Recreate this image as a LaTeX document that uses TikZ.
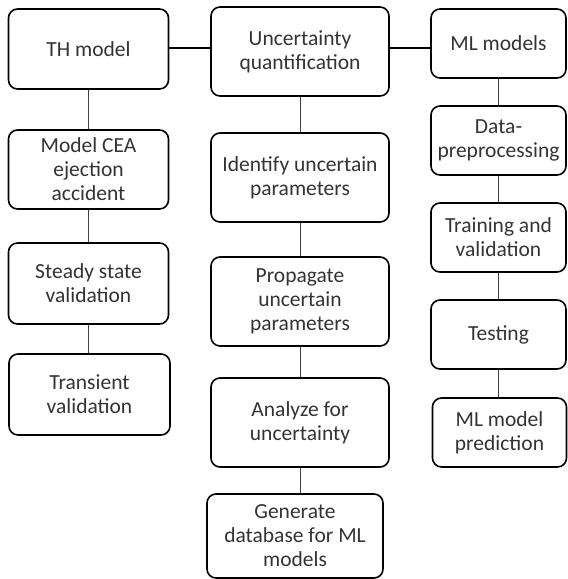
\documentclass[tikz,border=0pt]{standalone}
\usepackage{fontspec}
\setmainfont{Carlito}
\begin{document}
\begin{tikzpicture}[x=1pt,y=-1pt,
  box/.style={draw=black, line width=1.6pt, rounded corners=9pt, align=center,
    inner sep=0pt, text=black!80, font=\fontsize{21.5}{24}\selectfont},
  hline/.style={draw=black, line width=1.6pt},
  vline/.style={draw=black!75, line width=0.9pt}]
\useasboundingbox (0,0) rectangle (568,579);
% left column
\node[box, minimum width=160pt, minimum height=80pt] (th) at (88.5,49) {TH model};
\node[box, minimum width=160pt, minimum height=79pt] (cea) at (88.5,169.5) {Model CEA\\ejection\\accident};
\node[box, minimum width=160pt, minimum height=81pt] (ss) at (88.5,283.5) {Steady state\\validation};
\node[box, minimum width=161pt, minimum height=81pt] (tr) at (89.5,394.5) {Transient\\validation};
% middle column
\node[box, minimum width=178pt, minimum height=89pt] (uq) at (300,51.5) {Uncertainty\\quantification};
\node[box, minimum width=178pt, minimum height=89pt] (id) at (300,177.5) {Identify uncertain\\parameters};
\node[box, minimum width=178pt, minimum height=89pt] (pr) at (300,301.5) {Propagate\\uncertain\\parameters};
\node[box, minimum width=178pt, minimum height=89pt] (an) at (300,422.5) {Analyze for\\uncertainty};
\node[box, minimum width=176pt, minimum height=84pt] (gen) at (295,536) {Generate\\database for ML\\models};
% right column
\node[box, minimum width=135pt, minimum height=69pt] (ml) at (498.5,43.5) {ML models};
\node[box, minimum width=135pt, minimum height=69pt] (dp) at (498.5,140.5) {Data-\\preprocessing};
\node[box, minimum width=135pt, minimum height=69pt] (trv) at (498.5,237.5) {Training and\\validation};
\node[box, minimum width=135pt, minimum height=69pt] (te) at (498.5,334.5) {Testing};
\node[box, minimum width=134pt, minimum height=69pt] (pd) at (499.5,432.5) {ML model\\prediction};
% horizontal connectors
\coordinate (hy) at (0,48);
\draw[hline] (th.east |- hy) -- (uq.west |- hy);
\draw[hline] (uq.east |- hy) -- (ml.west |- hy);
% vertical connectors
\draw[vline] (th.south) -- (cea.north);
\draw[vline] (cea.south) -- (ss.north);
\draw[vline] (ss.south) -- (ss.south |- tr.north);
\draw[vline] (uq.south) -- (id.north);
\draw[vline] (id.south) -- (pr.north);
\draw[vline] (pr.south) -- (an.north);
\draw[vline] (an.south) -- (an.south |- gen.north);
\draw[vline] (ml.south) -- (dp.north);
\draw[vline] (dp.south) -- (trv.north);
\draw[vline] (trv.south) -- (te.north);
\draw[vline] (te.south) -- (te.south |- pd.north);
\end{tikzpicture}
\end{document}
